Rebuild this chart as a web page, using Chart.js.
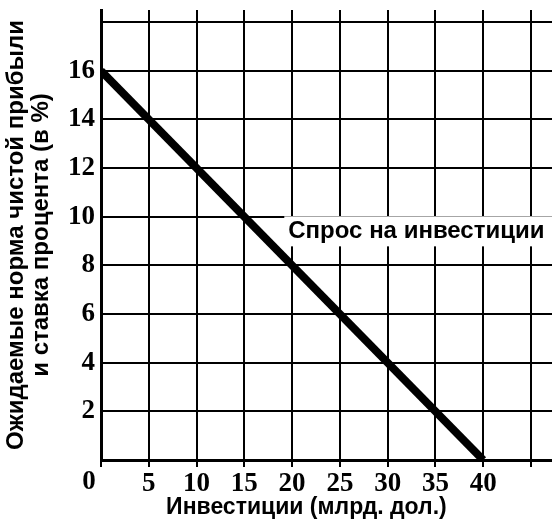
<!DOCTYPE html>
<html>
<head>
<meta charset="utf-8">
<script src="https://cdn.jsdelivr.net/npm/chart.js@4.4.1/dist/chart.umd.min.js"></script>
<style>
    html, body { margin: 0; padding: 0; background: #ffffff; }
    #wrap { width: 552px; height: 521px; position: relative; }
</style>
</head>
<body>
<div id="wrap"><canvas id="demandChart"></canvas></div>
<script>
// Спрос на инвестиции: норма прибыли (%) против объёма инвестиций (млрд. дол.)
const investment = [0, 40];
const rate = [16, 0];
const xTicks = [0, 5, 10, 15, 20, 25, 30, 35, 40, 45];
const yTicks = [0, 2, 4, 6, 8, 10, 12, 14, 16, 18];
const xLabeled = [5, 10, 15, 20, 25, 30, 35, 40];
const yLabeled = [2, 4, 6, 8, 10, 12, 14, 16];

const xTitle = 'Инвестиции (млрд. дол.)';
const yTitle = ['Ожидаемые норма чистой прибыли', 'и ставка процента (в %)'];
const curveLabel = 'Спрос на инвестиции';

const sansFamily = '"Liberation Sans", Arial, sans-serif';
const serifBold = { family: '"Liberation Serif", "Times New Roman", serif', size: 27, weight: 'bold' };

const extraText = {
    id: 'extraText',
    afterDatasetsDraw(chart) {
        const { ctx, scales: { x, y } } = chart;
        ctx.save();

        // подпись кривой на белой подложке
        ctx.font = `bold 24px ${sansFamily}`;
        ctx.textBaseline = 'middle';
        ctx.textAlign = 'left';
        const lx = x.getPixelForValue(19.6);
        const ly = y.getPixelForValue(9.4);
        const w = ctx.measureText(curveLabel).width;
        ctx.fillStyle = '#ffffff';
        ctx.fillRect(lx - 4, ly - 15, w + 12, 30);
        ctx.fillStyle = '#000000';
        ctx.fillText(curveLabel, lx, ly);

        // ноль под осью, сдвинут влево
        ctx.font = `bold ${serifBold.size}px ${serifBold.family}`;
        ctx.textAlign = 'center';
        ctx.fillText('0', x.getPixelForValue(0) - 12, y.getPixelForValue(0) + 22);

        // название оси X
        ctx.font = `bold 23px ${sansFamily}`;
        ctx.fillText(xTitle, x.getPixelForValue(21.5), y.getPixelForValue(0) + 48);
        ctx.restore();
    }
};

new Chart(document.getElementById('demandChart'), {
    type: 'line',
    data: {
        datasets: [{
            label: curveLabel,
            data: investment.map((v, i) => ({ x: v, y: rate[i] })),
            borderColor: '#000000',
            borderWidth: 8,
            borderCapStyle: 'butt',
            pointRadius: 0,
            tension: 0
        }]
    },
    options: {
        responsive: true,
        maintainAspectRatio: false,
        animation: false,
        layout: { padding: { top: 10, right: 0, left: 0, bottom: 0 } },
        plugins: { legend: { display: false }, tooltip: { enabled: false } },
        scales: {
            x: {
                type: 'linear',
                min: 0,
                max: 47.2,
                afterBuildTicks(scale) { scale.ticks = xTicks.map((v) => ({ value: v })); },
                afterFit(scale) {
                    scale.height = 61;
                    scale.paddingLeft = 0;
                    scale.paddingRight = 0;
                },
                grid: { color: '#000000', lineWidth: 2, tickLength: 7 },
                border: { display: true, color: '#000000', width: 3 },
                ticks: {
                    color: '#000000',
                    font: serifBold,
                    padding: 1,
                    maxRotation: 0,
                    autoSkip: false,
                    callback: (v) => (xLabeled.includes(v) ? String(v) : '')
                }
            },
            y: {
                type: 'linear',
                min: 0,
                max: 18.5,
                afterBuildTicks(scale) { scale.ticks = yTicks.map((v) => ({ value: v })); },
                afterFit(scale) {
                    scale.width = 101;
                    scale.paddingTop = 0;
                    scale.paddingBottom = 0;
                },
                grid: { color: '#000000', lineWidth: 2, drawTicks: false },
                border: { display: true, color: '#000000', width: 3 },
                ticks: {
                    color: '#000000',
                    font: serifBold,
                    padding: 6,
                    autoSkip: false,
                    callback: (v) => (yLabeled.includes(v) ? String(v) : '')
                },
                title: {
                    display: true,
                    text: yTitle,
                    color: '#000000',
                    font: { family: sansFamily, size: 24, weight: 'bold', lineHeight: 1.04 },
                    padding: { top: 4, bottom: 0 }
                }
            }
        }
    },
    plugins: [extraText]
});
</script>
</body>
</html>
